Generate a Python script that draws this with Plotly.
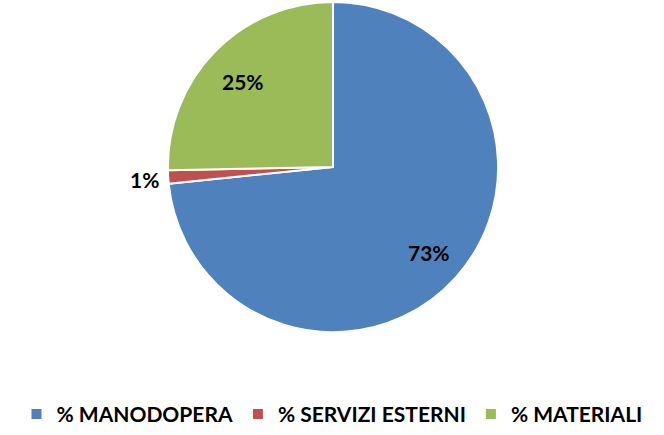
import math
import plotly.graph_objects as go

labels = ["% MANODOPERA", "% SERVIZI ESTERNI", "% MATERIALI"]
values = [73.4, 1.3, 25.3]
colors = ["#4F81BD", "#C0504D", "#9BBB59"]
label_radius = [0.79, 1.15, 0.77]   # label distance as fraction of pie radius

W, H = 664, 435
x0, x1, ytop, ybot = 164, 502, 2, 340
fig = go.Figure(go.Pie(
    labels=labels,
    values=values,
    sort=False,
    direction="clockwise",
    rotation=0,
    marker=dict(colors=colors, line=dict(color="white", width=2)),
    textinfo="none",
    domain=dict(x=[x0 / W, x1 / W], y=[1 - ybot / H, 1 - ytop / H]),
    showlegend=True,
    automargin=False,
))

# data labels placed on each slice's bisector
cx, cy, r = (x0 + x1) / 2, (ytop + ybot) / 2 + 1, 164
total = sum(values)
cum = 0.0
for v, k in zip(values, label_radius):
    mid = (cum + v / 2) / total
    cum += v
    theta = math.radians(90 - 360 * mid)
    px = cx + r * k * math.cos(theta)
    py = cy - r * k * math.sin(theta)
    fig.add_annotation(x=px / W, y=1 - py / H, xref="paper", yref="paper",
                       xanchor="center", yanchor="middle",
                       text=f"{round(100 * v / total)}%", showarrow=False,
                       font=dict(family="Lato, Open Sans, sans-serif", size=21, color="black", weight="bold"))

fig.update_layout(
    width=W, height=H,
    margin=dict(l=0, r=0, t=0, b=0),
    paper_bgcolor="white",
    legend=dict(orientation="h", x=0.5, xanchor="center", y=1 - 424 / H, yanchor="middle",
                font=dict(family="Lato, Open Sans, sans-serif", size=21, color="black", weight="bold"),
                itemwidth=30, traceorder="normal"),
)
fig.write_html("out.html")
